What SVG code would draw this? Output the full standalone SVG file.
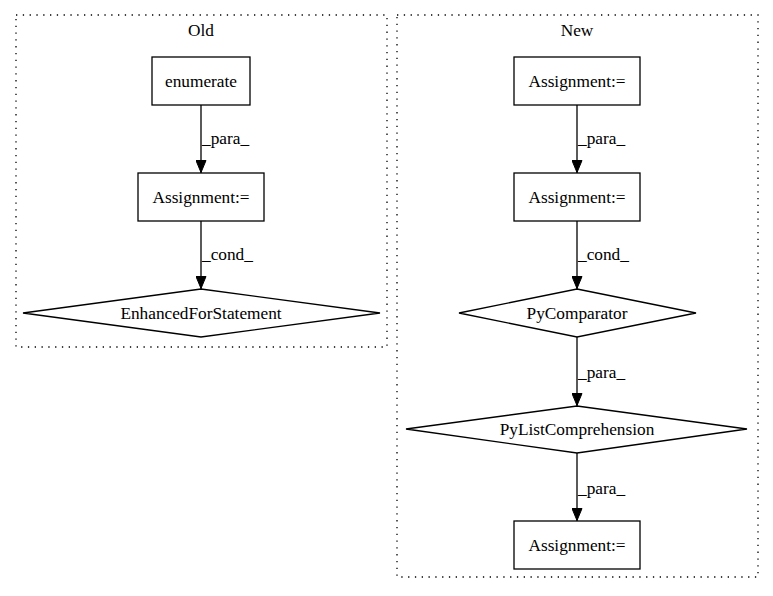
<svg xmlns="http://www.w3.org/2000/svg" width="773" height="596" viewBox="0 0 773 596">
<style>
text{font-family:"Liberation Serif","Times New Roman",serif;font-size:17.3px;fill:#000}
.c{text-anchor:middle}
.cl{fill:none;stroke:#000;stroke-width:1.3;stroke-dasharray:1.3,5.5}
.n{fill:#fff;stroke:#000;stroke-width:1.3}
.e{fill:none;stroke:#000;stroke-width:1.3}
</style>
<defs>
<marker id="ah" markerWidth="13" markerHeight="11" refX="13" refY="5.5" orient="auto" markerUnits="userSpaceOnUse">
<path d="M0.5,0.5 L12.5,5.5 L0.5,10.5 Z" fill="#000" stroke="#000" stroke-width="1"/>
</marker>
</defs>
<rect width="773" height="596" fill="#fff"/>
<g id="cluster-old">
<rect class="cl" x="16" y="15" width="371" height="332"/>
<text class="c" x="201" y="36">Old</text>
</g>
<g id="cluster-new">
<rect class="cl" x="397" y="15" width="361" height="562"/>
<text class="c" x="577" y="36">New</text>
</g>
<g id="connectors">
<path class="e" d="M201,105 V173" marker-end="url(#ah)"/>
<text x="202" y="144">_para_</text>
<path class="e" d="M201,221 V289" marker-end="url(#ah)"/>
<text x="202" y="260">_cond_</text>
<path class="e" d="M577,105 V173" marker-end="url(#ah)"/>
<text x="578" y="144">_para_</text>
<path class="e" d="M577,221 V289" marker-end="url(#ah)"/>
<text x="578" y="260">_cond_</text>
<path class="e" d="M577,337 V406" marker-end="url(#ah)"/>
<text x="578" y="378">_para_</text>
<path class="e" d="M577,453 V521" marker-end="url(#ah)"/>
<text x="578" y="494">_para_</text>
</g>
<g id="enumerate">
<rect class="n" x="152" y="57" width="98" height="48"/>
<text class="c" x="201" y="87">enumerate</text>
</g>
<g id="old-assignment">
<rect class="n" x="138" y="173" width="126" height="48"/>
<text class="c" x="201" y="203">Assignment:=</text>
</g>
<g id="enhanced-for">
<polygon class="n" points="201,289 380,313 201,337 23,313"/>
<text class="c" x="201" y="319">EnhancedForStatement</text>
</g>
<g id="new-assignment-1">
<rect class="n" x="514" y="57" width="126" height="48"/>
<text class="c" x="577" y="87">Assignment:=</text>
</g>
<g id="new-assignment-2">
<rect class="n" x="514" y="173" width="126" height="48"/>
<text class="c" x="577" y="203">Assignment:=</text>
</g>
<g id="py-comparator">
<polygon class="n" points="577,289 696,313 577,337 459,313"/>
<text class="c" x="577" y="319">PyComparator</text>
</g>
<g id="py-list-comprehension">
<polygon class="n" points="577,406 747,429 577,453 406,429"/>
<text class="c" x="577" y="435">PyListComprehension</text>
</g>
<g id="new-assignment-3">
<rect class="n" x="514" y="521" width="126" height="48"/>
<text class="c" x="577" y="551">Assignment:=</text>
</g>
</svg>
